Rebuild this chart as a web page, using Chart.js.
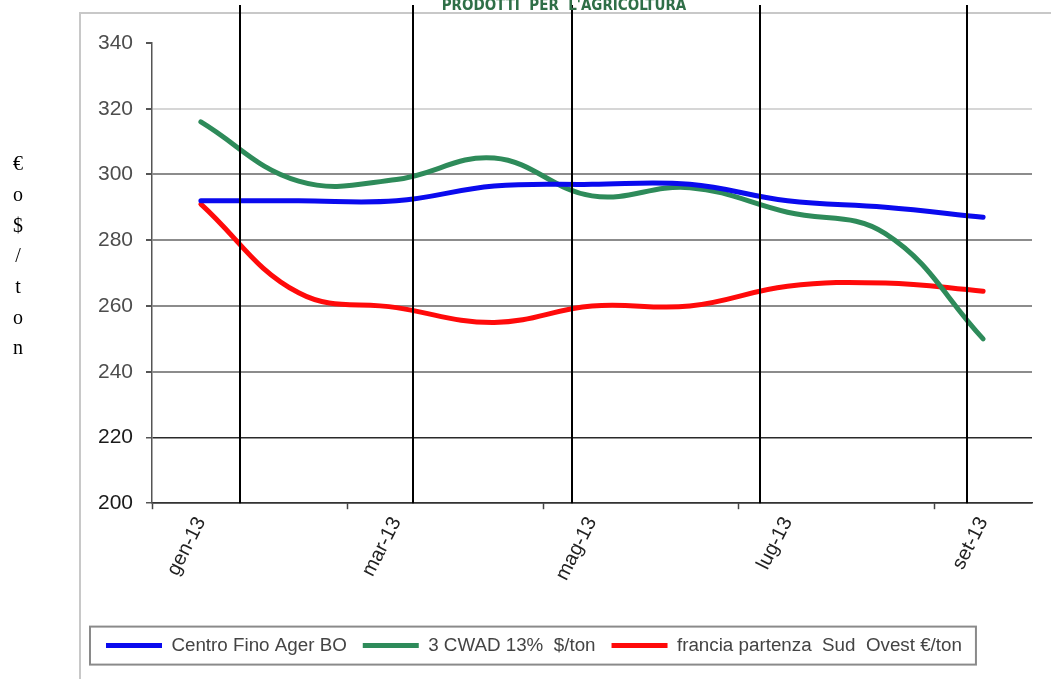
<!DOCTYPE html>
<html>
<head>
<meta charset="utf-8">
<script src="https://cdn.jsdelivr.net/npm/chart.js@4/dist/chart.umd.min.js"></script>
<style>
  html, body { margin: 0; padding: 0; background: #fff; }
  #wrap { position: relative; width: 1051px; height: 679px; }
</style>
</head>
<body>
<div id="wrap"><canvas id="c"></canvas></div>
<script>
// Monthly prices, January–September 2013
const months = ['gen-13', 'feb-13', 'mar-13', 'apr-13', 'mag-13', 'giu-13', 'lug-13', 'ago-13', 'set-13'];
const centroFino = [292, 292, 292, 296.5, 297, 297, 292, 290, 287];
const cwad = [316, 298, 298.5, 305, 293.5, 296, 288.5, 282, 250];
const francia = [291, 264, 259.5, 255, 260, 260, 266, 267, 264.5];
const seriesNames = ['Centro Fino Ager BO', '3 CWAD 13%  $/ton', 'francia partenza  Sud  Ovest €/ton'];
const seriesColors = ['#0a0aee', '#2e8b5a', '#ff0a0a'];
const yMin = 200, yMax = 340, yStep = 20;
const unitLetters = ['€', 'o', '$', '/', 't', 'o', 'n'];
const heading = "PRODOTTI  PER  L'AGRICOLTURA";
// vertical separators, expressed in month-index units along the x scale
const dividerPositions = [0.4, 2.17, 3.8, 5.72, 7.84];

const sansFont = "'Liberation Sans', Arial, sans-serif";

const decor = {
  id: 'decor',
  beforeDraw(chart) {
    const ctx = chart.ctx;
    ctx.save();
    ctx.strokeStyle = '#c8c8c8';
    ctx.lineWidth = 2;
    ctx.beginPath();
    ctx.moveTo(79, 13); ctx.lineTo(chart.width, 13);
    ctx.moveTo(80, 13); ctx.lineTo(80, chart.height);
    ctx.stroke();
    ctx.restore();
  },
  afterDraw(chart) {
    const ctx = chart.ctx;
    const x = chart.scales.x;
    const area = chart.chartArea;
    ctx.save();
    // black separators
    ctx.strokeStyle = '#000';
    ctx.lineWidth = 2;
    dividerPositions.forEach(p => {
      const px = Math.round(x.getPixelForValue(p));
      ctx.beginPath();
      ctx.moveTo(px, 5);
      ctx.lineTo(px, area.bottom);
      ctx.stroke();
    });
    // legend frame
    const boxes = chart.legend.legendHitBoxes;
    if (boxes && boxes.length) {
      const l = Math.min(...boxes.map(b => b.left));
      const r = Math.max(...boxes.map(b => b.left + b.width));
      const t = Math.min(...boxes.map(b => b.top));
      const h = Math.max(...boxes.map(b => b.height));
      ctx.strokeStyle = '#8a8a8a';
      ctx.lineWidth = 2;
      ctx.strokeRect(l - 16, t + h / 2 - 19, (r - l) + 30, 38);
    }
    // unit label, one character per line
    ctx.fillStyle = '#000';
    ctx.font = "20px 'Liberation Serif', 'Times New Roman', serif";
    ctx.textAlign = 'center';
    ctx.textBaseline = 'middle';
    unitLetters.forEach((ch, i) => ctx.fillText(ch, 18, 165 + i * 30.7));
    // heading
    ctx.fillStyle = '#2f6f47';
    ctx.font = "bold 15px 'DejaVu Sans Condensed', 'Liberation Sans Narrow', sans-serif";
    ctx.textAlign = 'center';
    ctx.textBaseline = 'alphabetic';
    ctx.fillText(heading, 564, 10);
    ctx.restore();
  }
};

const datasets = [centroFino, cwad, francia].map((vals, i) => ({
  label: seriesNames[i],
  data: vals,
  borderColor: seriesColors[i],
  backgroundColor: seriesColors[i],
  borderWidth: 5,
  borderCapStyle: 'round',
  borderJoinStyle: 'round',
  pointRadius: 0,
  pointHoverRadius: 0,
  tension: 0.4,
  fill: false
}));

new Chart(document.getElementById('c'), {
  type: 'line',
  data: { labels: months, datasets },
  plugins: [decor],
  options: {
    responsive: true,
    maintainAspectRatio: false,
    animation: false,
    events: [],
    layout: { padding: { left: 90, top: 43, right: 19, bottom: 14 } },
    scales: {
      x: {
        type: 'category',
        offset: true,
        afterFit: (s) => { s.height = 117; },
        grid: {
          offset: true,
          drawOnChartArea: false,
          drawTicks: true,
          tickLength: 6,
          tickColor: (c) => (c.index % 2 === 0 ? '#444' : 'rgba(0,0,0,0)'),
          tickWidth: 1.5
        },
        border: { display: true, color: '#333', width: 1.5 },
        ticks: {
          autoSkip: false,
          minRotation: 63,
          maxRotation: 63,
          padding: 4,
          color: '#222',
          font: { family: sansFont, size: 20 },
          callback: (v, i) => (i % 2 === 0 ? months[i] : '')
        }
      },
      y: {
        min: yMin,
        max: yMax,
        afterFit: (s) => { s.width = 62; },
        ticks: {
          stepSize: yStep,
          padding: 13,
          color: (c) => (c.tick.value <= 220 ? '#1a1a1a' : '#4d4d4d'),
          font: { family: sansFont, size: 21 }
        },
        grid: {
          drawTicks: true,
          tickLength: 6,
          tickColor: '#555',
          color: (c) => {
            const v = c.tick.value;
            if (v >= 340) return 'rgba(0,0,0,0)';
            if (v >= 320) return '#d6d6d6';
            if (v >= 240) return '#8c8c8c';
            return '#2a2a2a';
          },
          lineWidth: (c) => (c.tick.value >= 240 ? 2 : 1.5)
        },
        border: { display: true, color: '#555', width: 1.5 }
      }
    },
    plugins: {
      title: { display: false },
      tooltip: { enabled: false },
      legend: {
        position: 'bottom',
        align: 'start',
        labels: {
          boxWidth: 56,
          boxHeight: 5,
          padding: 16,
          color: '#444',
          font: { family: sansFont, size: 18.8 },
          generateLabels: (chart) =>
            Chart.defaults.plugins.legend.labels.generateLabels(chart).map(l => ({
              ...l, lineWidth: 0, fillStyle: l.strokeStyle
            }))
        }
      }
    }
  }
});
</script>
</body>
</html>
